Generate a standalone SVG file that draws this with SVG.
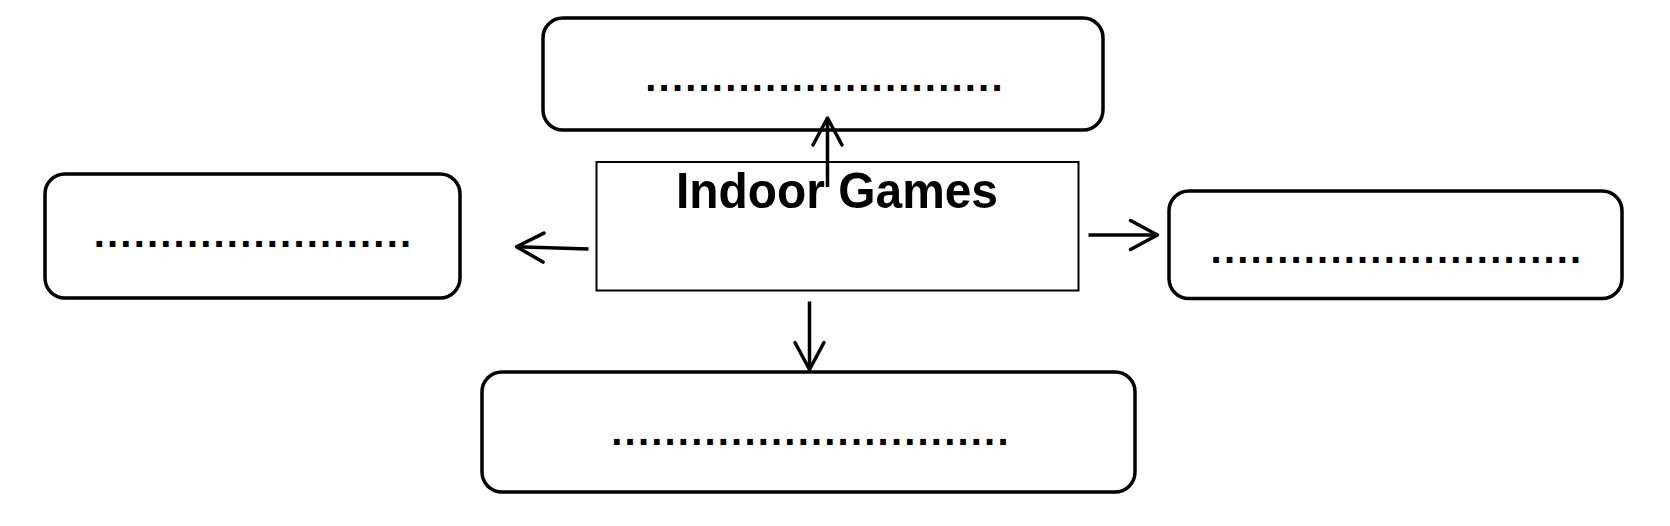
<svg xmlns="http://www.w3.org/2000/svg" width="1670" height="526" viewBox="0 0 1670 526">
<style>
.box{fill:#fff;stroke:#000;stroke-width:3.5}
.main{fill:#fff;stroke:#000;stroke-width:2}
.dots{font-family:"Liberation Sans",Arial,sans-serif;font-weight:bold;font-size:40px;letter-spacing:2.2px;fill:#000;text-anchor:middle}
.title{font-family:"Liberation Sans",Arial,sans-serif;font-weight:bold;font-size:50px;fill:#000;text-anchor:middle}
.conn{fill:none;stroke:#000;stroke-width:3.5}
</style>
<defs>
<marker id="arr" markerUnits="userSpaceOnUse" viewBox="-32 -18 36 36" refX="0" refY="0" markerWidth="36" markerHeight="36" orient="auto">
<path d="M-27,-14.5 L0,0 L-27,14.5" fill="none" stroke="#000" stroke-width="3.5" stroke-linecap="round" stroke-linejoin="round"/>
</marker>
</defs>
<rect width="1670" height="526" fill="#fff"/>
<g id="node-top">
<rect class="box" x="543" y="18" width="560" height="112" rx="20"/>
<text class="dots" x="825" y="90.5">...........................</text>
</g>
<g id="node-left">
<rect class="box" x="45" y="174" width="415" height="124" rx="20"/>
<text class="dots" x="253.5" y="247">........................</text>
</g>
<g id="node-center">
<rect class="main" x="596.5" y="162" width="482" height="128.5"/>
<text class="title" x="837" y="207.5" textLength="322" lengthAdjust="spacingAndGlyphs">Indoor Games</text>
</g>
<g id="node-right">
<rect class="box" x="1169" y="191" width="453" height="107.5" rx="20"/>
<text class="dots" x="1397" y="263">............................</text>
</g>
<g id="node-bottom">
<rect class="box" x="482" y="372" width="653" height="120" rx="20"/>
<text class="dots" x="811" y="444.5">..............................</text>
</g>
<g id="connectors">
<path class="conn" d="M827.5,187 L827.5,118" marker-end="url(#arr)"/>
<path class="conn" d="M588.5,249 L516.5,246.7" marker-end="url(#arr)"/>
<path class="conn" d="M1088.5,235 L1157.5,235" marker-end="url(#arr)"/>
<path class="conn" d="M809.5,301.5 L809.5,369.5" marker-end="url(#arr)"/>
</g>
</svg>
